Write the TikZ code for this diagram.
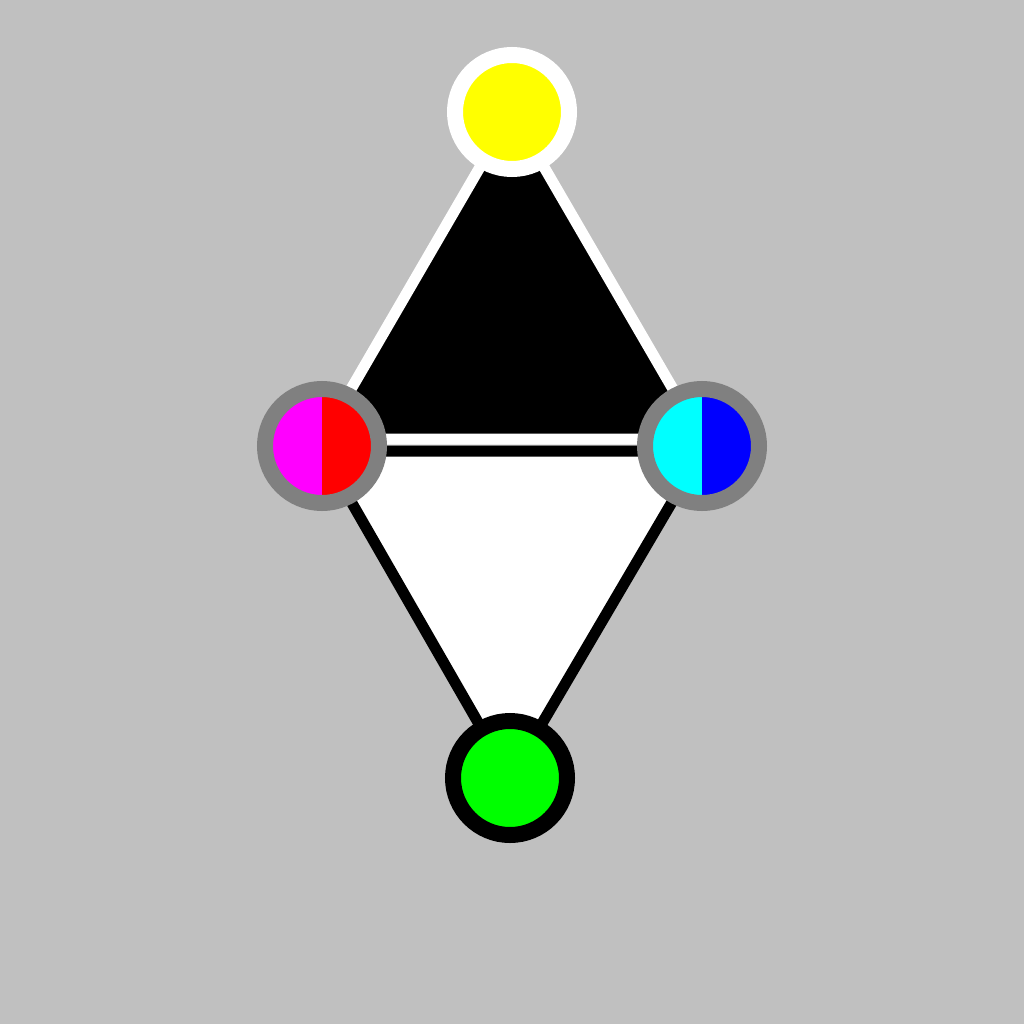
\documentclass[tikz,border=0pt]{standalone}
\definecolor{bg}{HTML}{C0C0C0}
\definecolor{ringgray}{HTML}{808080}
\definecolor{cyellow}{HTML}{FFFF00}
\definecolor{cgreen}{HTML}{00FF00}
\definecolor{cmagenta}{HTML}{FF00FF}
\definecolor{cred}{HTML}{FF0000}
\definecolor{ccyan}{HTML}{00FFFF}
\definecolor{cblue}{HTML}{0000FF}
\begin{document}
\begin{tikzpicture}[x=1pt,y=-1pt,
  edge/.style={line width=11pt,line join=miter},
  dot/.style={circle,minimum size=114pt,inner sep=0pt,line width=16pt},
  halves/.style 2 args={path picture={
    \fill[#1] (path picture bounding box.south west) rectangle (path picture bounding box.north);
    \fill[#2] (path picture bounding box.north) rectangle (path picture bounding box.south east);}}
]
\fill[bg] (0,0) rectangle (1024,1024);
\useasboundingbox (0,0) rectangle (1024,1024);
% upper triangle
\coordinate (ut) at (512,112);
\coordinate (ul) at (322,439);
\coordinate (ur) at (702,439);
% lower triangle
\coordinate (ll) at (322,451);
\coordinate (lr) at (702,451);
\coordinate (lb) at (510,778);
\filldraw[edge,fill=black,draw=white] (ut) -- (ul) -- (ur) -- cycle;
\filldraw[edge,fill=white,draw=black] (ll) -- (lr) -- (lb) -- cycle;
% nodes
\node[dot,draw=white,fill=cyellow] (top) at (512,112) {};
\node[dot,draw=black,fill=cgreen] (bottom) at (510,778) {};
\node[dot,draw=ringgray,halves={cmagenta}{cred}] (left) at (322,446) {};
\node[dot,draw=ringgray,halves={ccyan}{cblue}] (right) at (702,446) {};
\end{tikzpicture}
\end{document}
